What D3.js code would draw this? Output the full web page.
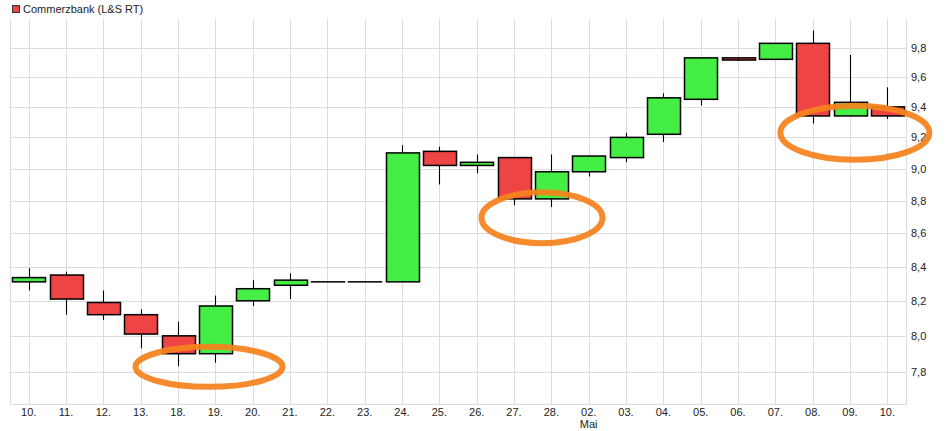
<!DOCTYPE html>
<html>
<head>
<meta charset="utf-8">
<script src="https://cdn.jsdelivr.net/npm/d3@7"></script>
<style>
  html, body { margin: 0; padding: 0; background: #fff; }
  svg { display: block; font-family: "Liberation Sans", Arial, sans-serif; }
</style>
</head>
<body>
<svg id="chart" width="949" height="431"></svg>
<script>
// ---- data ----
const categories = ["10.","11.","12.","13.","18.","19.","20.","21.","22.","23.","24.","25.","26.","27.","28.","02.","03.","04.","05.","06.","07.","08.","09.","10."];
const subLabels  = ["","","","","","","","","","","","","","","","Mai","","","","","","","",""];
const openVals  = [8.31, 8.35, 8.19, 8.12, 8.00, 7.90, 8.20, 8.29, 8.31, 8.31, 8.31, 9.11, 9.02, 9.07, 8.81, 8.98, 9.07, 9.22, 9.45, 9.73, 9.72, 9.83, 9.34, 9.40];
const closeVals = [8.335,8.21, 8.12, 8.01, 7.90, 8.17, 8.27, 8.32, 8.31, 8.31, 9.10, 9.02, 9.04, 8.81, 8.98, 9.08, 9.20, 9.46, 9.73, 9.715,9.83, 9.34, 9.43, 9.34];
const highVals  = [8.39, 8.37, 8.26, 8.15, 8.08, 8.23, 8.32, 8.36, 8.31, 8.31, 9.15, 9.14, 9.09, 9.07, 9.09, 9.08, 9.23, 9.49, 9.73, 9.73, 9.83, 9.92, 9.75, 9.53];
const lowVals   = [8.26, 8.12, 8.09, 7.93, 7.83, 7.85, 8.17, 8.21, 8.31, 8.31, 8.31, 8.90, 8.97, 8.77, 8.76, 8.95, 9.04, 9.17, 9.41, 9.71, 9.72, 9.29, 9.34, 9.32];
const yTicks = [7.8, 8.0, 8.2, 8.4, 8.6, 8.8, 9.0, 9.2, 9.4, 9.6, 9.8];
const seriesName = "Commerzbank (L&S RT)";
// annotation ellipse centres (category position, price value)
const markCats   = [4.83, 13.75, 22.13];
const markValues = [7.827, 8.694, 9.23];

// ---- layout ----
const W = 949, H = 431;
const plot = { left: 10, right: 906, top: 19, bottom: 404 };
const svg = d3.select("#chart");

const x = d3.scaleBand()
  .domain(d3.range(categories.length))
  .range([plot.left, plot.right])
  .paddingInner(0.12)
  .paddingOuter(0.06);
const step = x.step();
const cx = i => x(i) + x.bandwidth() / 2;
const cxf = f => plot.left + x.paddingOuter() * step + f * step + x.bandwidth() / 2;

const y = d3.scaleLog().domain([7.625, 10.0]).range([plot.bottom, plot.top]);

const gridColor = "#dcdcdc";

// vertical grid
svg.append("g").selectAll("line").data(d3.range(categories.length)).join("line")
  .attr("x1", i => Math.round(cx(i)) + 0.5).attr("x2", i => Math.round(cx(i)) + 0.5)
  .attr("y1", plot.top).attr("y2", plot.bottom)
  .attr("stroke", gridColor).attr("stroke-width", 1);

// horizontal grid
svg.append("g").selectAll("line").data(yTicks).join("line")
  .attr("x1", plot.left).attr("x2", plot.right)
  .attr("y1", d => Math.round(y(d)) + 0.5).attr("y2", d => Math.round(y(d)) + 0.5)
  .attr("stroke", gridColor).attr("stroke-width", 1);

// frame: left, right, bottom
svg.append("path")
  .attr("d", `M${plot.left + 0.5},${plot.top}V${plot.bottom + 0.5}H${plot.right + 0.5}V${plot.top}`)
  .attr("fill", "none").attr("stroke", gridColor).attr("stroke-width", 1);

// y axis labels (right)
const yAxis = d3.axisRight(y).tickValues(yTicks).tickSize(0).tickPadding(5)
  .tickFormat(d => d3.format(".1f")(d).replace(".", ","));
const gy = svg.append("g").attr("transform", `translate(${plot.right},0)`).call(yAxis);
gy.select(".domain").remove();
gy.selectAll("text").attr("font-size", 11).attr("fill", "#222")
  .attr("font-family", "Liberation Sans, Arial, sans-serif");

// x axis labels
const xAxis = d3.axisBottom(x).tickSize(0).tickPadding(4).tickFormat(i => categories[i]);
const gx = svg.append("g").attr("transform", `translate(0,${plot.bottom})`).call(xAxis);
gx.select(".domain").remove();
gx.selectAll("text").attr("font-size", 11).attr("fill", "#222")
  .attr("font-family", "Liberation Sans, Arial, sans-serif");
gx.selectAll(".tick").filter(i => subLabels[i]).append("text")
  .attr("y", 16).attr("dy", "0.71em").attr("text-anchor", "middle")
  .attr("font-size", 11).attr("fill", "#222")
  .attr("font-family", "Liberation Sans, Arial, sans-serif")
  .text(i => subLabels[i]);

// candles
const greenFill = "#44ee44", redFill = "#ee4444";
const candles = svg.append("g").selectAll("g").data(d3.range(categories.length)).join("g");
candles.append("line")
  .attr("x1", i => Math.round(cx(i)) + 0.5).attr("x2", i => Math.round(cx(i)) + 0.5)
  .attr("y1", i => y(highVals[i])).attr("y2", i => y(lowVals[i]))
  .attr("stroke", "#000").attr("stroke-width", 1.1);
candles.append("rect")
  .attr("x", i => Math.round(x(i)) + 0.5)
  .attr("width", Math.round(x.bandwidth()))
  .attr("y", i => y(Math.max(openVals[i], closeVals[i])))
  .attr("height", i => Math.max(0.01, y(Math.min(openVals[i], closeVals[i])) - y(Math.max(openVals[i], closeVals[i]))))
  .attr("fill", i => closeVals[i] > openVals[i] ? greenFill : (closeVals[i] < openVals[i] ? redFill : "none"))
  .attr("stroke", "#000").attr("stroke-width", 1.5);

// legend
svg.append("rect").attr("x", 12.5).attr("y", 5.5).attr("width", 7).attr("height", 7)
  .attr("fill", redFill).attr("stroke", "#333").attr("stroke-width", 1);
svg.append("text").attr("x", 23).attr("y", 13).attr("font-size", 11).attr("fill", "#222")
  .text(seriesName);

// annotation ellipses
const defs = svg.append("defs");
defs.append("filter").attr("id", "soft").attr("x", "-20%").attr("y", "-40%").attr("width", "140%").attr("height", "180%")
  .append("feGaussianBlur").attr("stdDeviation", 0.6);
const ellRx = [73.5, 60.5, 74.5];
const ellRy = [20, 25.5, 27];
svg.append("g").selectAll("ellipse").data(d3.range(markCats.length)).join("ellipse")
  .attr("cx", i => cxf(markCats[i]))
  .attr("cy", i => y(markValues[i]))
  .attr("rx", i => ellRx[i]).attr("ry", i => ellRy[i])
  .attr("fill", "none").attr("stroke", "#f5821f").attr("stroke-width", 6)
  .attr("stroke-opacity", 0.93)
  .attr("filter", "url(#soft)");
</script>
</body>
</html>
